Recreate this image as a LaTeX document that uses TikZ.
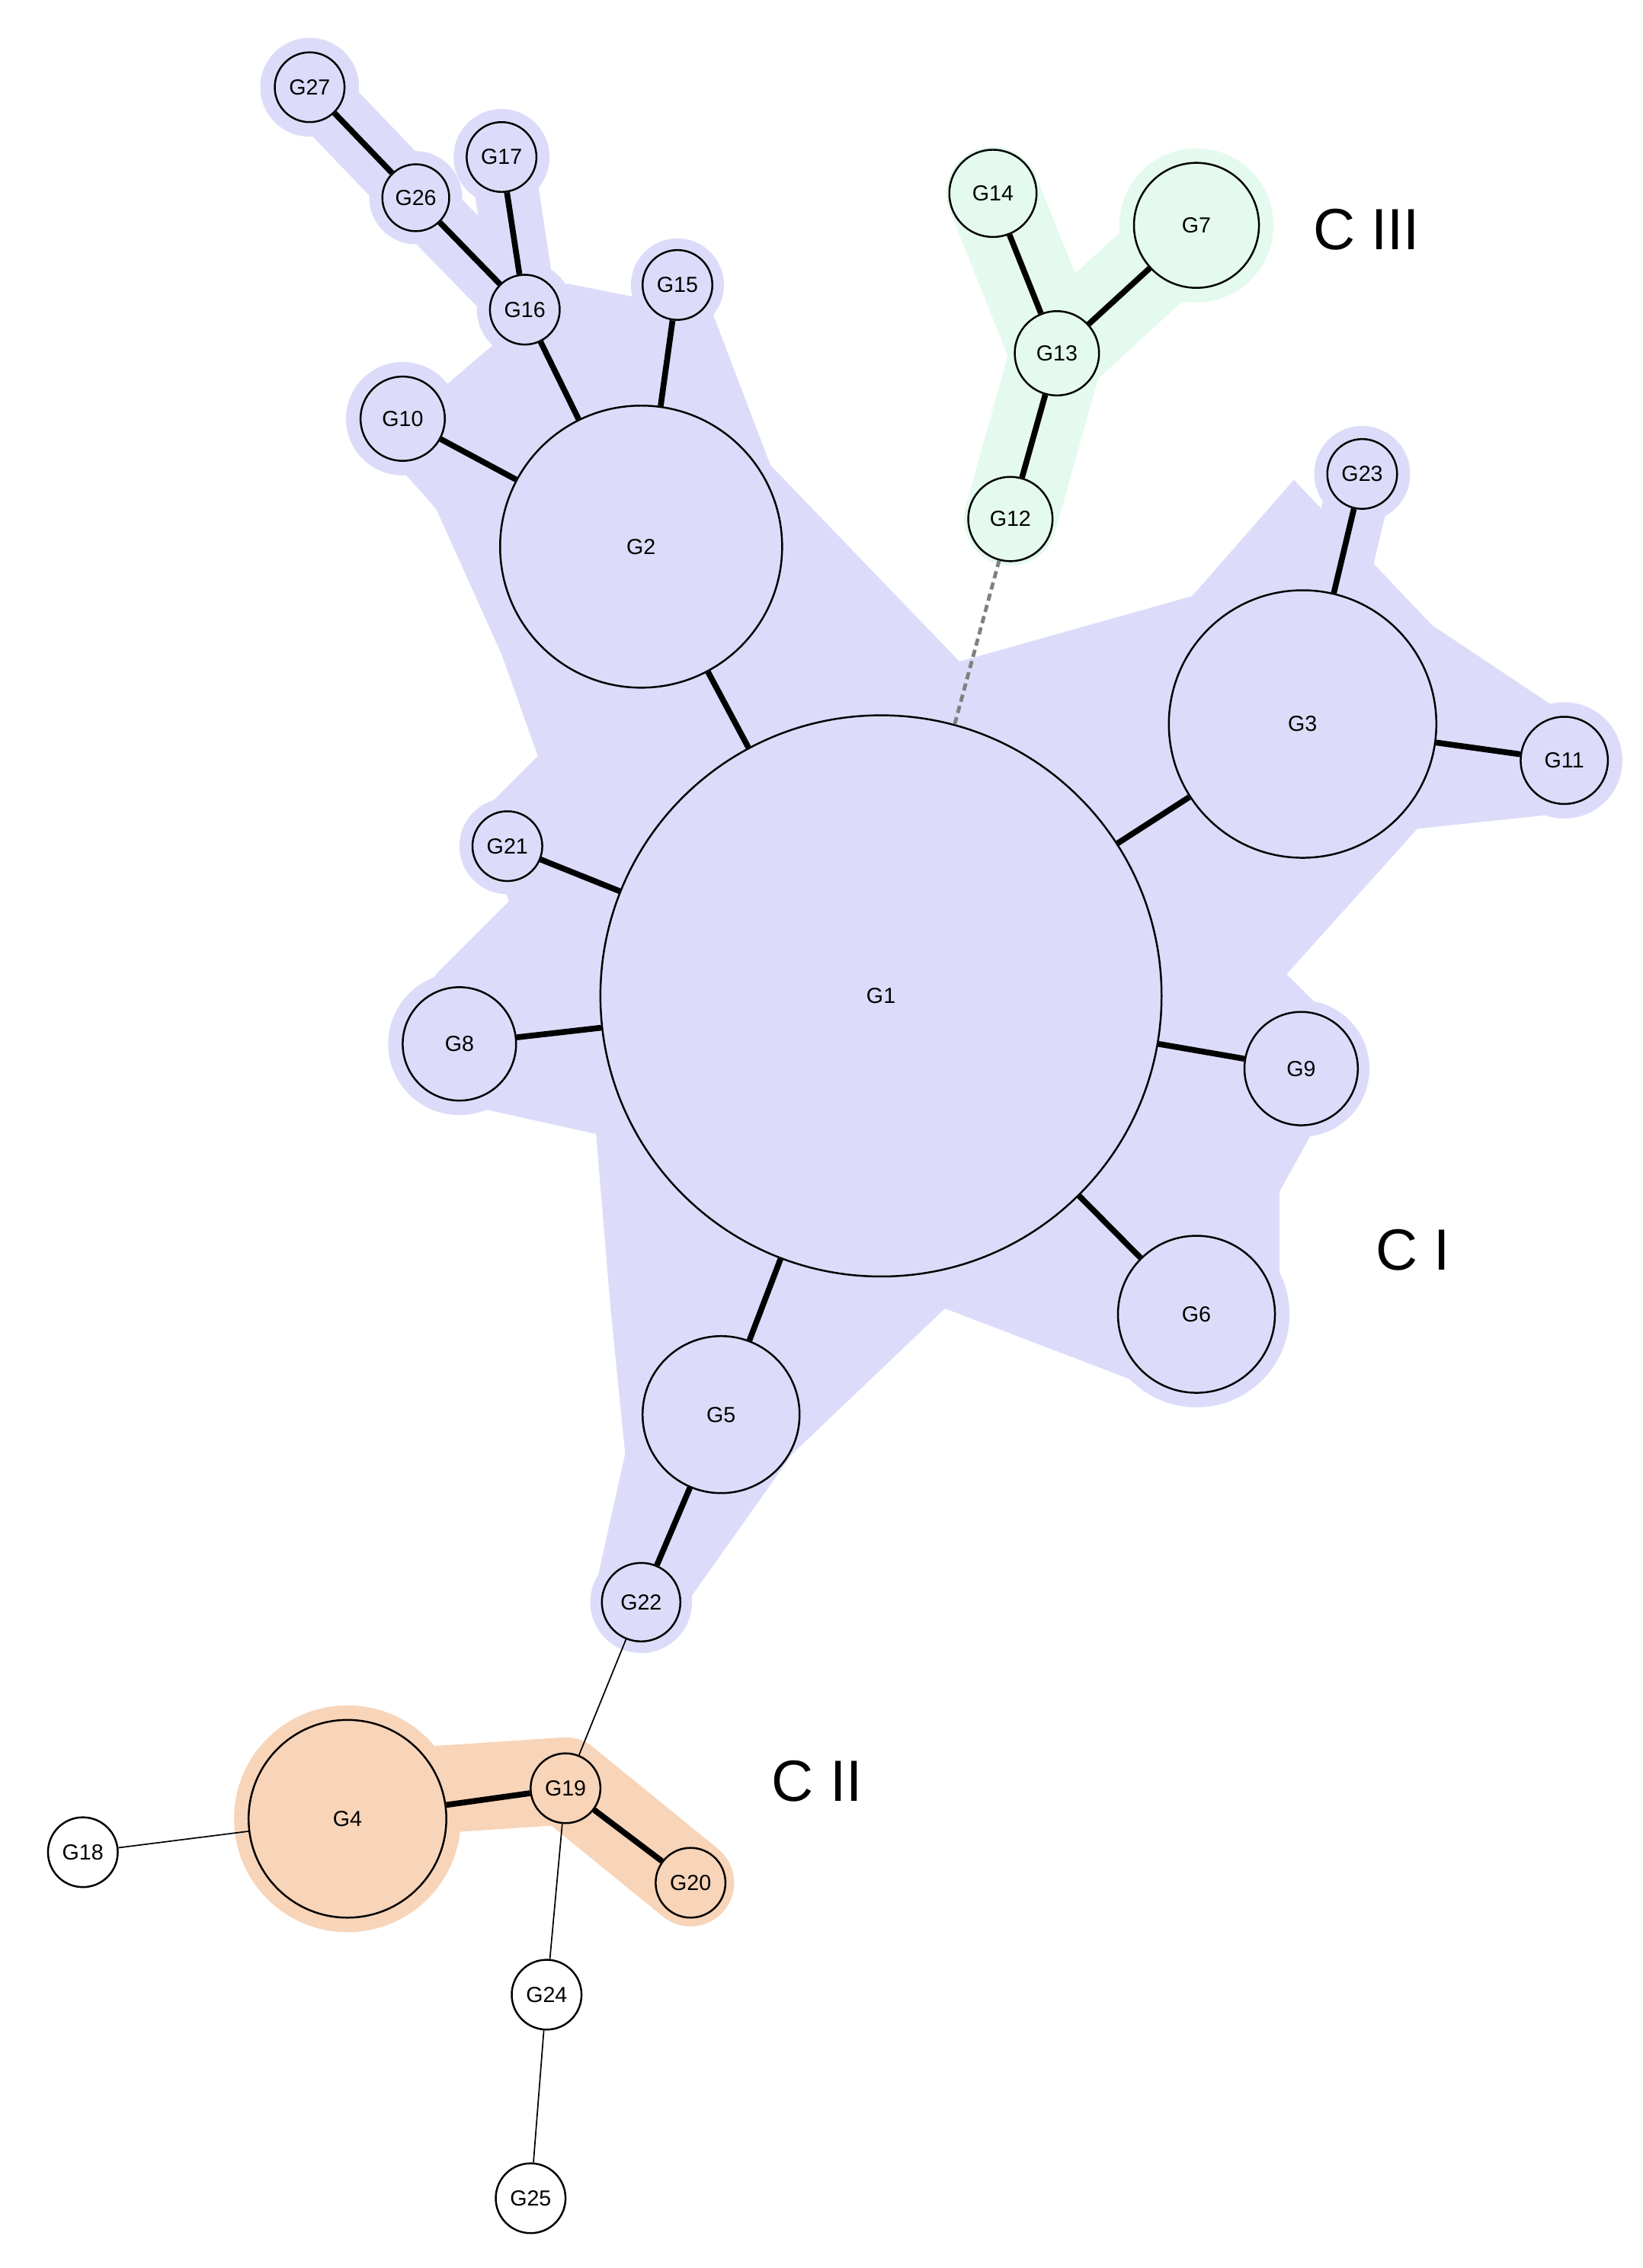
\documentclass[tikz,border=0pt]{standalone}
\usepackage{fontspec}
\setmainfont{Liberation Sans}
\begin{document}
\begin{tikzpicture}[x=1pt,y=-1pt,
  gn/.style={circle,draw=black,line width=1.3pt,inner sep=0pt,font=\fontsize{15}{15}\selectfont},
  thk/.style={line width=4pt},
  thn/.style={line width=0.9pt},
  rib/.style={line width=44pt,line cap=round,line join=round}]
\definecolor{cb}{RGB}{220,220,250}
\definecolor{cg}{RGB}{228,250,238}
\definecolor{co}{RGB}{248,212,184}
\useasboundingbox (0,0) rectangle (1130,1560);
\fill[white] (0,0) rectangle (1130,1560);
% ---- hull C I
\fill[cb] (300,350)--(260,305)--(330,245)--(390,195)--(440,205)--(490,215)--(530,320)--(660,455)--(820,410)--(890,330)--(985,430)--(1090,500)--(1070,560)--(975,570)--(885,670)--(935,720)--(880,820)--(880,920)--(820,965)--(650,900)--(545,1000)--(460,1120)--(410,1090)--(430,1000)--(420,900)--(410,780)--(320,760)--(270,720)--(300,670)--(350,620)--(330,560)--(370,520)--(345,450)--cycle;
\draw[cb,rib] (441,376)--(361,213)--(286,136)--(213,60);
\draw[cb,rib] (361,213)--(345,108);
\draw[cb,rib] (441,376)--(466,196);
\draw[cb,rib] (441,376)--(277,288);
\draw[cb,rib] (606,685)--(316,718);
\draw[cb,rib] (606,685)--(349,582);
\draw[cb,rib] (606,685)--(895,735);
\draw[cb,rib] (606,685)--(823,904);
\draw[cb,rib] (496,973)--(441,1102);
\draw[cb,rib] (896,498)--(1076,523);
\draw[cb,rib] (896,498)--(937,326);
\foreach \x/\y/\r in {606/685/193,441/376/97,896/498/92,496/973/54,823/904/64,316/718/49,895/735/47,277/288/39,1076/523/40,349/582/33,441/1102/35,937/326/33,466/196/32,361/213/33,345/108/33,286/136/32,213/60/34}
  \fill[cb] (\x,\y) circle (\r);
% ---- hull C III
\draw[cg,line width=64pt,line cap=round,line join=round] (695,357)--(727,243)--(683,133);
\draw[cg,line width=64pt,line cap=round] (727,243)--(823,155);
\fill[cg] (823,155) circle (53);
% ---- hull C II
\fill[co] (239,1251) circle (78);
\draw[co,line width=60pt,line cap=round,line join=round] (239,1235)--(389,1225)--(475,1295);
% ---- nodes
\node[gn,fill=cb,minimum size=386pt] (G1) at (606,685) {G1};
\node[gn,fill=cb,minimum size=194pt] (G2) at (441,376) {G2};
\node[gn,fill=cb,minimum size=184pt] (G3) at (896,498) {G3};
\node[gn,fill=co,minimum size=136pt] (G4) at (239,1251) {G4};
\node[gn,fill=cb,minimum size=108pt] (G5) at (496,973) {G5};
\node[gn,fill=cb,minimum size=108pt] (G6) at (823,904) {G6};
\node[gn,fill=cg,minimum size=86pt] (G7) at (823,155) {G7};
\node[gn,fill=cb,minimum size=78pt] (G8) at (316,718) {G8};
\node[gn,fill=cb,minimum size=78pt] (G9) at (895,735) {G9};
\node[gn,fill=cb,minimum size=58pt] (G10) at (277,288) {G10};
\node[gn,fill=cb,minimum size=60pt] (G11) at (1076,523) {G11};
\node[gn,fill=cg,minimum size=58pt] (G12) at (695,357) {G12};
\node[gn,fill=cg,minimum size=58pt] (G13) at (727,243) {G13};
\node[gn,fill=cg,minimum size=60pt] (G14) at (683,133) {G14};
\node[gn,fill=cb,minimum size=48pt] (G15) at (466,196) {G15};
\node[gn,fill=cb,minimum size=48pt] (G16) at (361,213) {G16};
\node[gn,fill=cb,minimum size=48pt] (G17) at (345,108) {G17};
\node[gn,fill=white,minimum size=48pt] (G18) at (57,1274) {G18};
\node[gn,fill=co,minimum size=48pt] (G19) at (389,1230) {G19};
\node[gn,fill=co,minimum size=48pt] (G20) at (475,1295) {G20};
\node[gn,fill=cb,minimum size=48pt] (G21) at (349,582) {G21};
\node[gn,fill=cb,minimum size=54pt] (G22) at (441,1102) {G22};
\node[gn,fill=cb,minimum size=48pt] (G23) at (937,326) {G23};
\node[gn,fill=white,minimum size=48pt] (G24) at (376,1372) {G24};
\node[gn,fill=white,minimum size=48pt] (G25) at (365,1512) {G25};
\node[gn,fill=cb,minimum size=46pt] (G26) at (286,136) {G26};
\node[gn,fill=cb,minimum size=48pt] (G27) at (213,60) {G27};
\foreach \a/\b in {G1/G2,G2/G16,G2/G15,G2/G10,G16/G17,G16/G26,G26/G27,G1/G21,G1/G8,G1/G5,G5/G22,G1/G6,G1/G9,G1/G3,G3/G23,G3/G11,G12/G13,G13/G14,G13/G7,G4/G19,G19/G20}
  \draw[thk] (\a)--(\b);
\foreach \a/\b in {G22/G19,G4/G18,G19/G24,G24/G25}
  \draw[thn] (\a)--(\b);
\draw[gray,line width=2.5pt,dash pattern=on 5pt off 3pt] (G1)--(G12);
\node[font=\fontsize{40}{40}\selectfont] (c3) at (940,158) {C III};
\node[font=\fontsize{40}{40}\selectfont] (c1) at (972,860) {C I};
\node[font=\fontsize{40}{40}\selectfont] (c2) at (562,1225) {C II};
\end{tikzpicture}
\end{document}
